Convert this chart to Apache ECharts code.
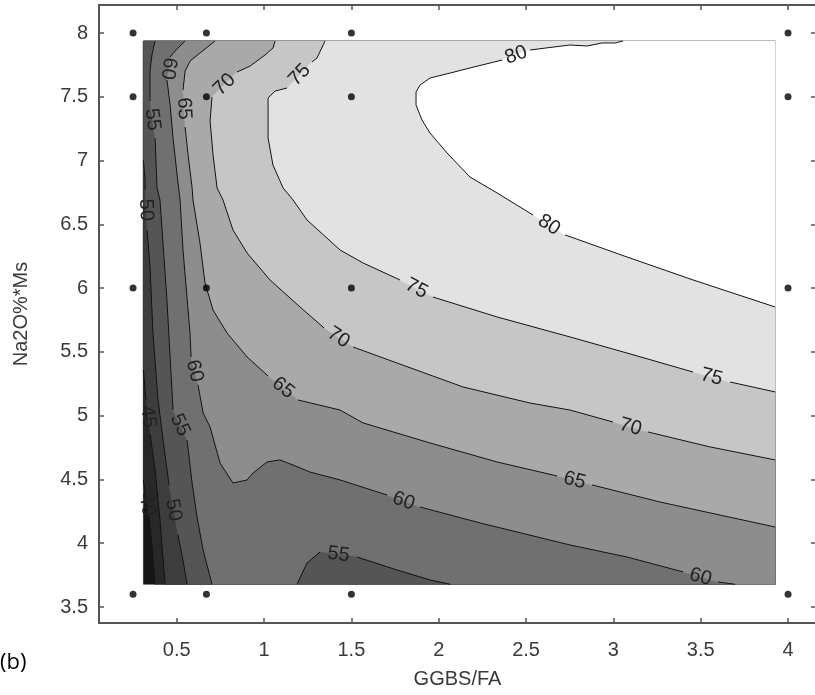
<!DOCTYPE html>
<html>
<head>
<meta charset="utf-8">
<script src="https://cdn.jsdelivr.net/npm/echarts@6/dist/echarts.min.js"></script>
<style>
  html, body { margin: 0; padding: 0; background: #fff; }
  #chart { width: 815px; height: 695px; }
</style>
</head>
<body>
<div id="chart"></div>
<script>
// Design points (GGBS/FA x Na2O%*Ms)
const ggbsFa = [0.25, 0.67, 1.5, 4];
const na2oMs = [3.6, 6, 7.5, 8];

// Extent of the fitted response surface
const fieldX = [0.309, 3.926];
const fieldY = [3.678, 7.937];

// Axis ticks
const xTicks = [0.5, 1, 1.5, 2, 2.5, 3, 3.5, 4];
const yTicks = [3.5, 4, 4.5, 5, 5.5, 6, 6.5, 7, 7.5, 8];

// Grey bands: below 40, 40-45, 45-50, ..., 75-80, above 80
const bandColors = ['#161616', '#282828', '#3d3d3d', '#555555', '#707070',
                    '#8d8d8d', '#a9a9a9', '#c6c6c6', '#e2e2e2', '#ffffff'];

// Contour lines; each is split into pieces, the gap between pieces holds the label
const c40 = [
  [[0.309, 4.496], [0.319, 4.394]],
  [[0.341, 4.206], [0.358, 3.986], [0.376, 3.678]]
];
const c45 = [
  [[0.309, 5.358], [0.324, 5.123]],
  [[0.347, 4.857], [0.376, 4.574], [0.404, 4.182], [0.433, 3.678]]
];
const c50 = [
  [[0.309, 7.000], [0.319, 6.850], [0.319, 6.770]],
  [[0.330, 6.456], [0.347, 6.166], [0.364, 5.648], [0.393, 5.123], [0.422, 4.809], [0.456, 4.457]],
  [[0.507, 4.065], [0.536, 3.868], [0.559, 3.678]]
];
const c55 = [
  [[0.376, 7.937], [0.358, 7.828], [0.347, 7.702], [0.347, 7.467]],
  [[0.376, 7.177], [0.387, 6.785], [0.404, 6.691], [0.444, 5.907], [0.479, 5.044]],
  [[0.559, 4.809], [0.588, 4.472], [0.616, 4.206], [0.651, 3.947], [0.702, 3.678]]
];
const c55Low = [
  [[1.189, 3.678], [1.246, 3.845], [1.320, 3.931]],
  [[1.532, 3.892], [1.761, 3.790], [1.950, 3.712], [2.065, 3.678]]
];
const c60 = [
  [[0.548, 7.937], [0.496, 7.867], [0.462, 7.812]],
  [[0.444, 7.632], [0.462, 7.436], [0.479, 7.177], [0.502, 6.887], [0.519, 6.691],
   [0.536, 6.299], [0.576, 5.648], [0.582, 5.460]],
  [[0.622, 5.241], [0.651, 5.021], [0.691, 4.911], [0.748, 4.629], [0.822, 4.472],
   [0.903, 4.496], [0.937, 4.551], [1.017, 4.637], [1.091, 4.653], [1.166, 4.613],
   [1.263, 4.558], [1.435, 4.496], [1.704, 4.378]],
  [[1.893, 4.284], [2.237, 4.159], [2.752, 3.986], [3.078, 3.892], [3.399, 3.775]],
  [[3.599, 3.696], [3.697, 3.678]]
];
const c65 = [
  [[0.719, 7.937], [0.633, 7.843], [0.576, 7.780], [0.548, 7.702], [0.536, 7.553]],
  [[0.548, 7.263], [0.565, 7.044], [0.588, 6.785], [0.593, 6.691], [0.633, 6.354],
   [0.662, 6.040], [0.708, 5.828], [0.788, 5.648], [0.903, 5.460], [1.023, 5.311]],
  [[1.195, 5.123], [1.435, 5.044], [1.567, 4.943], [1.950, 4.786], [2.334, 4.637], [2.678, 4.527]],
  [[2.878, 4.457], [3.267, 4.323], [3.926, 4.127]]
];
const c70 = [
  [[1.063, 7.937], [1.051, 7.882], [1.006, 7.828], [0.920, 7.741], [0.845, 7.694]],
  [[0.702, 7.498], [0.691, 7.310], [0.708, 7.044], [0.731, 6.785], [0.765, 6.691],
   [0.822, 6.456], [0.903, 6.275], [1.034, 6.064], [1.206, 5.852], [1.344, 5.687]],
  [[1.510, 5.538], [1.761, 5.413], [2.139, 5.225], [2.523, 5.099], [2.752, 5.044], [2.998, 4.950]],
  [[3.198, 4.872], [3.553, 4.755], [3.926, 4.653]]
];
const c75 = [
  [[1.349, 7.937], [1.303, 7.804], [1.275, 7.773]],
  [[1.132, 7.569], [1.063, 7.545], [1.023, 7.490], [1.023, 7.436], [1.023, 7.177],
   [1.051, 6.965], [1.109, 6.785], [1.166, 6.691], [1.246, 6.534], [1.435, 6.299],
   [1.567, 6.197], [1.778, 6.064]],
  [[1.967, 5.930], [2.334, 5.774], [2.752, 5.617], [3.078, 5.491], [3.456, 5.342]],
  [[3.668, 5.264], [3.926, 5.186]]
];
const c80 = [
  [[3.055, 7.937], [3.010, 7.922], [2.935, 7.922], [2.849, 7.898], [2.752, 7.906], [2.523, 7.867]],
  [[2.363, 7.788], [2.179, 7.726], [2.065, 7.686], [1.950, 7.647], [1.893, 7.592],
   [1.870, 7.537], [1.870, 7.436], [1.904, 7.318], [1.950, 7.216], [2.048, 7.059],
   [2.179, 6.871], [2.334, 6.746], [2.540, 6.573]],
  [[2.723, 6.417], [3.078, 6.244], [3.456, 6.064], [3.926, 5.852]]
];

// Each contour: level, pieces, field corners walked to close the higher side,
// and which band fills the enclosed side
const contours = [
  { level: 40, pieces: c40, corners: ['BR', 'TR', 'TL'], band: 1 },
  { level: 45, pieces: c45, corners: ['BR', 'TR', 'TL'], band: 2 },
  { level: 50, pieces: c50, corners: ['BR', 'TR', 'TL'], band: 3 },
  { level: 55, pieces: c55, corners: ['BR', 'TR'], band: 4 },
  { level: 55, pieces: c55Low, corners: [], band: 3 },
  { level: 60, pieces: c60, corners: ['BR', 'TR'], band: 5 },
  { level: 65, pieces: c65, corners: ['TR'], band: 6 },
  { level: 70, pieces: c70, corners: ['TR'], band: 7 },
  { level: 75, pieces: c75, corners: ['TR'], band: 8 },
  { level: 80, pieces: c80, corners: ['TR'], band: 9 }
];

const fieldCorner = {
  TL: [fieldX[0], fieldY[1]], TR: [fieldX[1], fieldY[1]],
  BR: [fieldX[1], fieldY[0]], BL: [fieldX[0], fieldY[0]]
};

// Filled regions, painted in order
const fills = [{ points: ['BL', 'BR', 'TR', 'TL'].map(k => fieldCorner[k]), color: bandColors[0] }];
contours.forEach(c => {
  const pts = [].concat(...c.pieces).concat(c.corners.map(k => fieldCorner[k]));
  fills.push({ points: pts, color: bandColors[c.band] });
});

// Line pieces and labels
const pieces = [];
const labels = [];
contours.forEach(c => {
  c.pieces.forEach((p, i) => {
    pieces.push(p);
    if (i < c.pieces.length - 1) {
      labels.push({ text: String(c.level), from: p[p.length - 1], to: c.pieces[i + 1][0] });
    }
  });
});

const designPoints = [];
ggbsFa.forEach(x => na2oMs.forEach(y => designPoints.push([x, y])));

const axisColor = '#555555';
const tickFont = { fontFamily: '"Liberation Sans Narrow", "Liberation Sans", Arial, sans-serif', fontSize: 20, color: '#3a3a3a' };
const nameFont = { fontFamily: '"Liberation Sans", Arial, sans-serif', fontSize: 20, color: '#3a3a3a' };

const xRange = { min: 0.055, max: 4.16 };
const yRange = { min: 3.3746, max: 8.2195 };

const chart = echarts.init(document.getElementById('chart'), null, { renderer: 'canvas' });

chart.setOption({
  animation: false,
  backgroundColor: '#ffffff',
  grid: { left: 99, top: 5, width: 717, height: 618, containLabel: false, outerBoundsMode: 'none' },
  xAxis: [
    {
      type: 'value', position: 'bottom', ...xRange,
      name: 'GGBS/FA', nameLocation: 'middle', nameGap: 46, nameTextStyle: nameFont,
      axisLine: { show: true, lineStyle: { color: axisColor, width: 2 } },
      axisTick: { show: true, inside: true, length: 5, customValues: xTicks, lineStyle: { color: axisColor, width: 1.5 } },
      axisLabel: { show: true, customValues: xTicks, margin: 17, ...tickFont },
      splitLine: { show: false }
    },
    {
      type: 'value', position: 'top', ...xRange,
      axisLine: { show: true, onZero: false, lineStyle: { color: axisColor, width: 2 } },
      axisTick: { show: true, inside: true, length: 5, customValues: xTicks, lineStyle: { color: axisColor, width: 1.5 } },
      axisLabel: { show: false },
      splitLine: { show: false }
    }
  ],
  yAxis: [
    {
      type: 'value', position: 'left', ...yRange,
      name: 'Na2O%*Ms', nameLocation: 'middle', nameGap: 68, nameTextStyle: nameFont,
      axisLine: { show: true, onZero: false, lineStyle: { color: axisColor, width: 2 } },
      axisTick: { show: true, inside: true, length: 5, customValues: yTicks, lineStyle: { color: axisColor, width: 1.5 } },
      axisLabel: { show: true, customValues: yTicks, margin: 11, ...tickFont },
      splitLine: { show: false }
    },
    {
      type: 'value', position: 'right', ...yRange,
      axisLine: { show: true, onZero: false, lineStyle: { color: axisColor, width: 2 } },
      axisTick: { show: true, inside: true, length: 5, customValues: yTicks, lineStyle: { color: axisColor, width: 1.5 } },
      axisLabel: { show: false },
      splitLine: { show: false }
    }
  ],
  graphic: [
    { type: 'text', left: 0, top: 652, style: { text: '(b)', fontSize: 22, fill: '#000',
      fontFamily: '"Open Sans", "Liberation Sans", sans-serif' } }
  ],
  series: [
    {
      type: 'custom', name: 'bands', z: 2, silent: true, clip: false,
      data: fills.map((f, i) => [fieldX[0], fieldY[0], i]),
      renderItem: (params, api) => {
        const f = fills[params.dataIndex];
        return {
          type: 'polygon', z2: params.dataIndex,
          shape: { points: f.points.map(p => api.coord(p)) },
          style: { fill: f.color, stroke: f.color, lineWidth: 0.5 }
        };
      }
    },
    {
      type: 'custom', name: 'lines', z: 3, silent: true, clip: false,
      data: pieces.map((p, i) => [p[0][0], p[0][1], i]),
      renderItem: (params, api) => {
        const p = pieces[params.dataIndex];
        return {
          type: 'polyline',
          shape: { points: p.map(q => api.coord(q)) },
          style: { stroke: '#111', lineWidth: 1, fill: null }
        };
      }
    },
    {
      type: 'custom', name: 'labels', z: 4, silent: true, clip: false,
      data: labels.map((l, i) => [l.from[0], l.from[1], i]),
      renderItem: (params, api) => {
        const l = labels[params.dataIndex];
        const a = api.coord(l.from), b = api.coord(l.to);
        let ang = Math.atan2(b[1] - a[1], b[0] - a[0]) * 180 / Math.PI;
        if (ang > 100) ang -= 180;
        if (ang <= -80) ang += 180;
        return {
          type: 'text',
          x: (a[0] + b[0]) / 2, y: (a[1] + b[1]) / 2,
          rotation: -ang * Math.PI / 180,
          style: {
            text: l.text, fill: '#222222', fontSize: 20,
            fontFamily: '"Liberation Sans", Arial, sans-serif',
            align: 'center', verticalAlign: 'middle'
          }
        };
      }
    },
    {
      type: 'scatter', name: 'design points', z: 5, silent: true,
      xAxisIndex: 0, yAxisIndex: 0,
      symbol: 'circle', symbolSize: 7,
      itemStyle: { color: '#000' },
      data: designPoints
    }
  ]
});
</script>
</body>
</html>
